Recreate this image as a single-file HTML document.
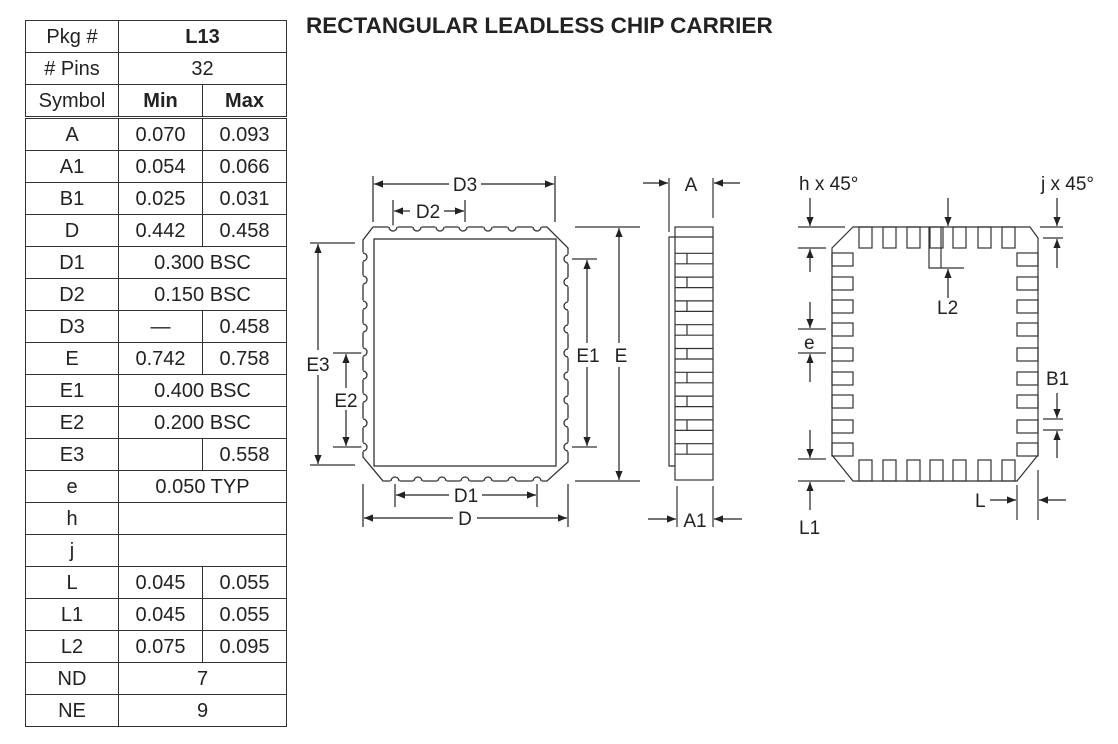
<!DOCTYPE html>
<html><head><style>
body{margin:0;background:#fff;width:1118px;height:744px;overflow:hidden;font-family:"Liberation Sans",sans-serif;}
table{position:absolute;left:25px;top:20px;border-collapse:collapse;}
td{border:1px solid #333;height:31px;padding:0;text-align:center;font-size:20px;color:#222;line-height:20px;}
.b{font-weight:bold;}
.h td{border-bottom:3px double #333;}
h1{position:absolute;left:306px;top:13px;margin:0;font-size:22.5px;font-weight:bold;color:#222;white-space:nowrap;}
svg{position:absolute;left:0;top:0;}
</style></head><body>
<table>
<colgroup><col style="width:93px"><col style="width:84px"><col style="width:84px"></colgroup>
<tr><td>Pkg #</td><td colspan="2" class="b">L13</td></tr>
<tr><td># Pins</td><td colspan="2">32</td></tr>
<tr class="h"><td>Symbol</td><td class="b">Min</td><td class="b">Max</td></tr>
<tr><td>A</td><td>0.070</td><td>0.093</td></tr>
<tr><td>A1</td><td>0.054</td><td>0.066</td></tr>
<tr><td>B1</td><td>0.025</td><td>0.031</td></tr>
<tr><td>D</td><td>0.442</td><td>0.458</td></tr>
<tr><td>D1</td><td colspan="2">0.300 BSC</td></tr>
<tr><td>D2</td><td colspan="2">0.150 BSC</td></tr>
<tr><td>D3</td><td>—</td><td>0.458</td></tr>
<tr><td>E</td><td>0.742</td><td>0.758</td></tr>
<tr><td>E1</td><td colspan="2">0.400 BSC</td></tr>
<tr><td>E2</td><td colspan="2">0.200 BSC</td></tr>
<tr><td>E3</td><td></td><td>0.558</td></tr>
<tr><td>e</td><td colspan="2">0.050 TYP</td></tr>
<tr><td>h</td><td colspan="2"></td></tr>
<tr><td>j</td><td colspan="2"></td></tr>
<tr><td>L</td><td>0.045</td><td>0.055</td></tr>
<tr><td>L1</td><td>0.045</td><td>0.055</td></tr>
<tr><td>L2</td><td>0.075</td><td>0.095</td></tr>
<tr><td>ND</td><td colspan="2">7</td></tr>
<tr><td>NE</td><td colspan="2">9</td></tr>
</table>
<h1>RECTANGULAR LEADLESS CHIP CARRIER</h1>
<svg width="1118" height="744" viewBox="0 0 1118 744">
<defs>
<marker id="a" viewBox="0 0 10 10" refX="10" refY="5" markerWidth="9" markerHeight="9" orient="auto-start-reverse" markerUnits="userSpaceOnUse"><path d="M0,1 L10,5 L0,9 z" fill="#222"/></marker>
<g id="n"><rect x="-4.6" y="-1.6" width="9.2" height="3.2" fill="#fff"/><path d="M-4,0 A4,4 0 0 0 4,0" fill="none" stroke="#333" stroke-width="1.3"/></g>
</defs>
<g stroke="#333" stroke-width="1.3" fill="none">
<path d="M373,227 L547,227 L568,248 L568,462 L547,481 L383,481 L363,457 L363,240 Z"/>
<rect x="374" y="239" width="182" height="227"/>
<path d="M373,176V222M555,176V222M393,200V226M465,200V222M310,243H355M310,465H355M333,353H362M333,447H362M572,259H597M572,447H597M575,227H640M575,481H640M395,484V507M537,484V507M363,484V527M568,484V527"/>
</g>
<use href="#n" x="393" y="227"/><use href="#n" x="417" y="227"/><use href="#n" x="440" y="227"/><use href="#n" x="463" y="227"/><use href="#n" x="488" y="227"/><use href="#n" x="512" y="227"/><use href="#n" x="537" y="227"/>
<g transform="translate(0,481) rotate(180)">
<use href="#n" x="-395"/><use href="#n" x="-418"/><use href="#n" x="-442"/><use href="#n" x="-465"/><use href="#n" x="-488"/><use href="#n" x="-512"/><use href="#n" x="-537"/></g>
<g transform="translate(363,0) rotate(-90)">
<use href="#n" x="-257"/><use href="#n" x="-280"/><use href="#n" x="-305"/><use href="#n" x="-328"/><use href="#n" x="-352"/><use href="#n" x="-375"/><use href="#n" x="-398"/><use href="#n" x="-423"/><use href="#n" x="-447"/></g>
<g transform="translate(568,0) rotate(90)">
<use href="#n" x="259"/><use href="#n" x="282"/><use href="#n" x="306"/><use href="#n" x="329"/><use href="#n" x="353"/><use href="#n" x="376"/><use href="#n" x="400"/><use href="#n" x="423"/><use href="#n" x="447"/></g>
<!-- lines with arrow at start only -->
<g stroke="#222" stroke-width="1.2" marker-start="url(#a)">
<line x1="374" y1="184" x2="449" y2="184"/>
<line x1="394" y1="211" x2="410" y2="211"/>
<line x1="318" y1="244" x2="318" y2="350"/>
<line x1="346" y1="354" x2="346" y2="388"/>
<line x1="587" y1="260" x2="587" y2="343"/>
<line x1="619" y1="228" x2="619" y2="343"/>
<line x1="396" y1="495" x2="449" y2="495"/>
<line x1="364" y1="518" x2="453" y2="518"/>
</g>
<!-- arrow at end only -->
<g stroke="#222" stroke-width="1.2" marker-end="url(#a)">
<line x1="481" y1="184" x2="554" y2="184"/>
<line x1="444" y1="211" x2="464" y2="211"/>
<line x1="318" y1="375" x2="318" y2="464"/>
<line x1="346" y1="410" x2="346" y2="446"/>
<line x1="587" y1="367" x2="587" y2="446"/>
<line x1="619" y1="367" x2="619" y2="480"/>
<line x1="482" y1="495" x2="536" y2="495"/>
<line x1="477" y1="518" x2="567" y2="518"/>
</g>
<g font-size="19" fill="#222" text-anchor="middle">
<text x="465" y="191">D3</text><text x="428" y="218">D2</text>
<text x="318" y="371">E3</text><text x="346" y="407">E2</text>
<text x="588" y="362">E1</text><text x="621" y="362">E</text>
<text x="466" y="502">D1</text><text x="465" y="525">D</text>
</g>
<!-- side view -->
<g stroke="#333" stroke-width="1.2" fill="none">
<rect x="675" y="227" width="38" height="253"/>
<path d="M675,237H669V466H675M675,237H713M669,178V232M713,178V218M677,486V527M713,486V527"/>
<path d="M675,253.3H713M675,263.8H713M687,253.3V263.8
M675,277.1H713M675,287.6H713M687,277.1V287.6
M675,300.9H713M675,311.4H713M687,300.9V311.4
M675,324.7H713M675,335.2H713M687,324.7V335.2
M675,348.5H713M675,359H713M687,348.5V359
M675,372.3H713M675,382.8H713M687,372.3V382.8
M675,396.1H713M675,406.6H713M687,396.1V406.6
M675,419.9H713M675,430.4H713M687,419.9V430.4
M675,443.7H713M675,454.2H713M687,443.7V454.2"/>
</g>
<g stroke="#222" stroke-width="1.2" marker-end="url(#a)">
<line x1="643" y1="183" x2="668" y2="183"/><line x1="740" y1="183" x2="714" y2="183"/>
<line x1="648" y1="519" x2="676" y2="519"/><line x1="742" y1="519" x2="714" y2="519"/>
</g>
<g font-size="19" fill="#222" text-anchor="middle"><text x="691" y="191">A</text><text x="695" y="527">A1</text></g>
<!-- right package -->
<g stroke="#333" stroke-width="1.2" fill="none">
<path d="M853,227 L1030,227 L1038,238 L1038,455 L1017,481 L853,481 L832,455 L832,248 Z"/>
<rect x="859" y="227" width="13" height="21"/><rect x="883" y="227" width="13" height="21"/><rect x="907" y="227" width="13" height="21"/><rect x="930" y="227" width="13" height="21"/><rect x="953" y="227" width="13" height="21"/><rect x="978" y="227" width="13" height="21"/><rect x="1002" y="227" width="13" height="21"/>
<rect x="859" y="460" width="13" height="21"/><rect x="883" y="460" width="13" height="21"/><rect x="907" y="460" width="13" height="21"/><rect x="930" y="460" width="13" height="21"/><rect x="953" y="460" width="13" height="21"/><rect x="978" y="460" width="13" height="21"/><rect x="1002" y="460" width="13" height="21"/>
<rect x="832" y="253" width="21" height="13"/><rect x="832" y="277" width="21" height="13"/><rect x="832" y="300" width="21" height="13"/><rect x="832" y="323" width="21" height="13"/><rect x="832" y="348" width="21" height="13"/><rect x="832" y="372" width="21" height="13"/><rect x="832" y="395" width="21" height="13"/><rect x="832" y="420" width="21" height="13"/><rect x="832" y="443" width="21" height="13"/>
<rect x="1017" y="253" width="21" height="13"/><rect x="1017" y="277" width="21" height="13"/><rect x="1017" y="300" width="21" height="13"/><rect x="1017" y="323" width="21" height="13"/><rect x="1017" y="348" width="21" height="13"/><rect x="1017" y="372" width="21" height="13"/><rect x="1017" y="395" width="21" height="13"/><rect x="1017" y="420" width="21" height="13"/><rect x="1017" y="443" width="21" height="13"/>
<path d="M929,227V268H964M941,227V268M798,227H845M798,248H826M798,329H826M798,353H826M798,459H826M798,481H845M1040,227H1063M1043,238H1063M1043,419H1063M1043,430H1063M1017,485V520M1038,470V520"/>
</g>
<g stroke="#222" stroke-width="1.2" marker-end="url(#a)">
<line x1="948" y1="198" x2="948" y2="226"/><line x1="948" y1="298" x2="948" y2="269"/>
<line x1="810" y1="198" x2="810" y2="226"/><line x1="810" y1="272" x2="810" y2="249"/>
<line x1="810" y1="302" x2="810" y2="328"/><line x1="810" y1="382" x2="810" y2="354"/>
<line x1="810" y1="430" x2="810" y2="458"/><line x1="810" y1="510" x2="810" y2="482"/>
<line x1="1057" y1="198" x2="1057" y2="226"/><line x1="1057" y1="268" x2="1057" y2="239"/>
<line x1="1057" y1="393" x2="1057" y2="418"/><line x1="1057" y1="458" x2="1057" y2="431"/>
<line x1="990" y1="500" x2="1016" y2="500"/><line x1="1066" y1="500" x2="1039" y2="500"/>
</g>
<g font-size="19" fill="#222">
<text x="799" y="190">h x 45°</text><text x="1041" y="190">j x 45°</text>
<text x="937" y="314">L2</text><text x="804" y="349">e</text>
<text x="1046" y="385">B1</text><text x="975" y="507">L</text><text x="799" y="534">L1</text>
</g>
</svg>
</body></html>
